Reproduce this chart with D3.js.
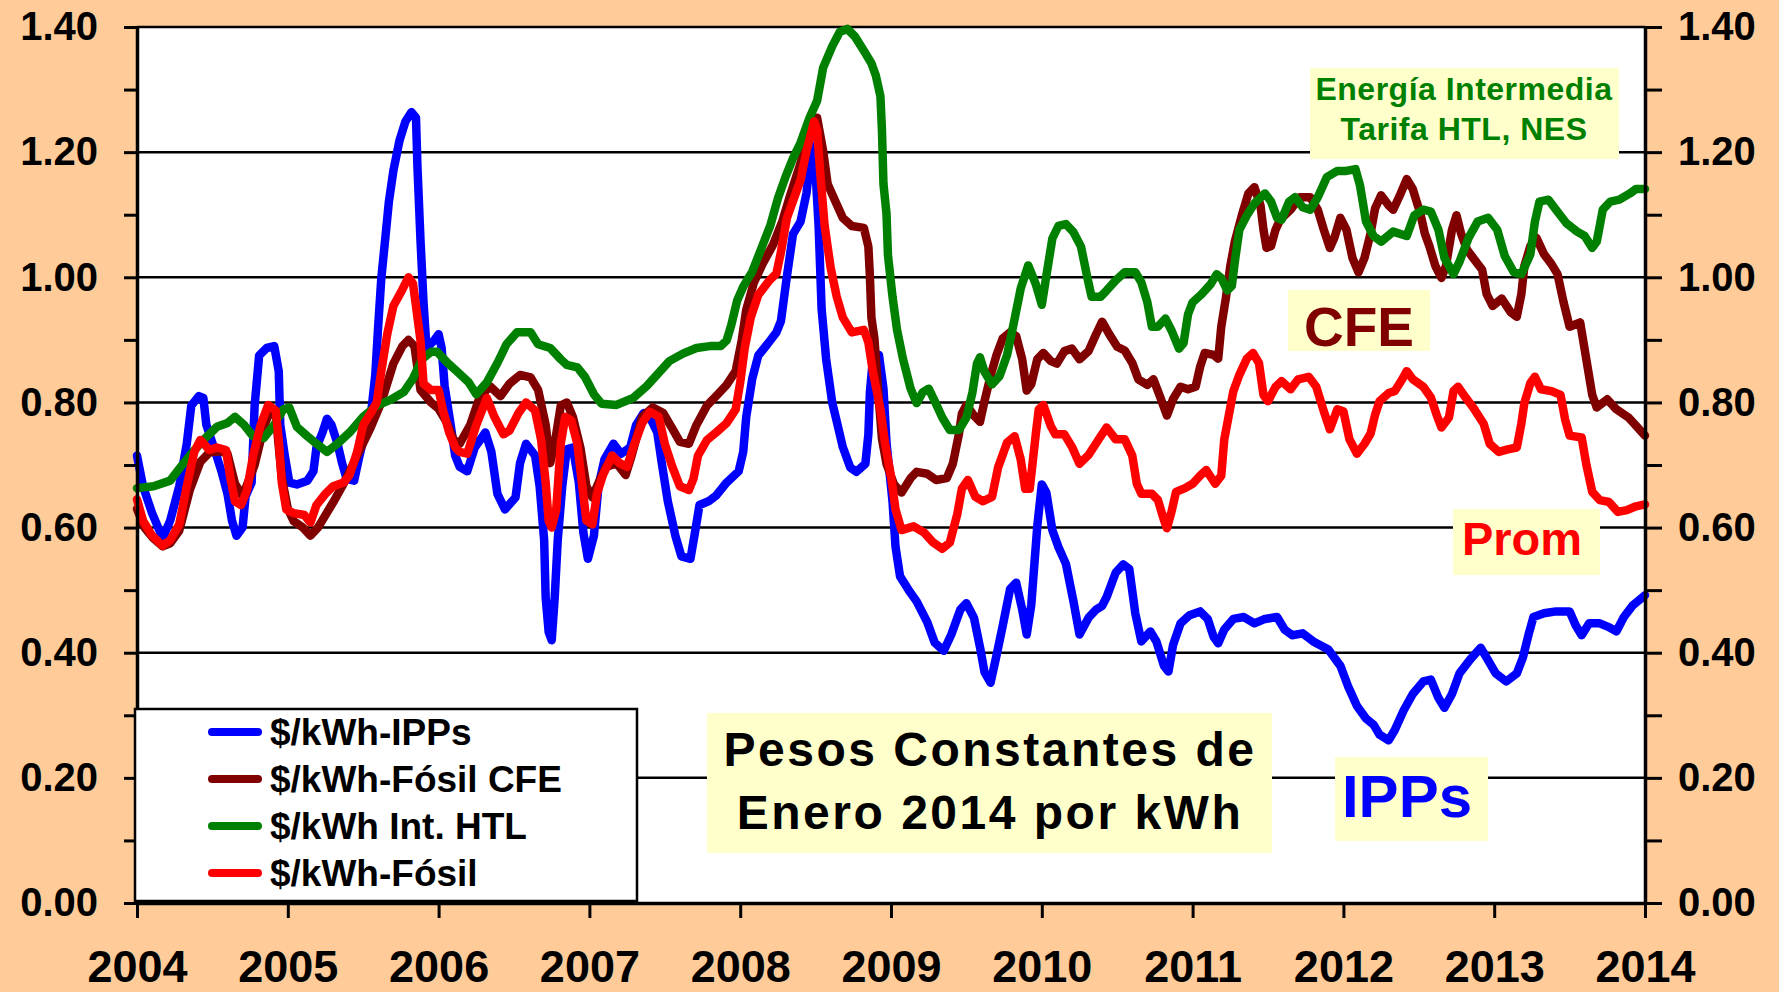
<!DOCTYPE html>
<html><head><meta charset="utf-8">
<script src="https://cdn.jsdelivr.net/npm/d3@7"></script>
<style>
body{margin:0;background:#FFCC99;}
svg text{font-family:"Liberation Sans",Arial,sans-serif;font-weight:bold;}
</style>
</head><body>
<svg id="chart" width="1779" height="992"></svg>
<script>
// ---------- DATA ----------
const yearTicks = [2004,2005,2006,2007,2008,2009,2010,2011,2012,2013,2014];
const yMajorTicks = [0,0.2,0.4,0.6,0.8,1.0,1.2,1.4];
const yAllTicks = [0,0.1,0.2,0.3,0.4,0.5,0.6,0.7,0.8,0.9,1.0,1.1,1.2,1.3,1.4];
const seriesLabels = ["$/kWh-IPPs","$/kWh-Fósil CFE","$/kWh Int. HTL","$/kWh-Fósil"];
const seriesColors = ["#0000FF","#800000","#008000","#FF0000"];

// [year, pesos/kWh]
const ipps = [[2004.00,0.715],[2004.04,0.666],[2004.10,0.623],[2004.17,0.583],[2004.22,0.611],[2004.28,0.666],[2004.33,0.734],[2004.36,0.795],[2004.41,0.81],[2004.44,0.807],[2004.46,0.764],[2004.51,0.728],[2004.56,0.69],[2004.60,0.654],[2004.63,0.611],[2004.66,0.587],[2004.70,0.60],[2004.72,0.65],[2004.76,0.672],[2004.78,0.795],[2004.81,0.875],[2004.86,0.887],[2004.91,0.89],[2004.94,0.85],[2004.95,0.764],[2004.98,0.715],[2005.01,0.672],[2005.06,0.669],[2005.13,0.675],[2005.17,0.69],[2005.19,0.728],[2005.23,0.752],[2005.26,0.774],[2005.29,0.764],[2005.33,0.734],[2005.36,0.703],[2005.39,0.678],[2005.44,0.675],[2005.47,0.709],[2005.50,0.74],[2005.55,0.777],[2005.58,0.844],[2005.60,0.924],[2005.62,0.998],[2005.65,1.071],[2005.67,1.12],[2005.70,1.17],[2005.74,1.218],[2005.78,1.249],[2005.82,1.264],[2005.85,1.255],[2005.86,1.175],[2005.88,1.059],[2005.90,0.96],[2005.92,0.887],[2005.97,0.899],[2006.00,0.909],[2006.02,0.887],[2006.04,0.826],[2006.08,0.764],[2006.11,0.715],[2006.14,0.697],[2006.19,0.69],[2006.24,0.728],[2006.31,0.752],[2006.35,0.721],[2006.39,0.654],[2006.44,0.629],[2006.51,0.648],[2006.54,0.703],[2006.58,0.734],[2006.64,0.715],[2006.67,0.666],[2006.70,0.58],[2006.71,0.488],[2006.73,0.433],[2006.75,0.42],[2006.77,0.488],[2006.79,0.58],[2006.82,0.666],[2006.85,0.725],[2006.89,0.728],[2006.93,0.672],[2006.96,0.592],[2006.99,0.55],[2007.03,0.587],[2007.06,0.666],[2007.10,0.709],[2007.16,0.734],[2007.21,0.718],[2007.27,0.728],[2007.31,0.764],[2007.36,0.783],[2007.40,0.777],[2007.45,0.752],[2007.48,0.703],[2007.52,0.642],[2007.57,0.587],[2007.61,0.554],[2007.67,0.55],[2007.70,0.592],[2007.73,0.636],[2007.79,0.642],[2007.84,0.651],[2007.91,0.672],[2007.99,0.69],[2008.02,0.721],[2008.04,0.777],[2008.08,0.838],[2008.12,0.875],[2008.18,0.893],[2008.24,0.912],[2008.27,0.93],[2008.31,1.002],[2008.35,1.069],[2008.40,1.089],[2008.44,1.135],[2008.47,1.20],[2008.49,1.21],[2008.52,1.082],[2008.54,0.949],[2008.57,0.869],[2008.61,0.80],[2008.64,0.77],[2008.68,0.729],[2008.73,0.696],[2008.77,0.689],[2008.83,0.702],[2008.85,0.749],[2008.86,0.816],[2008.88,0.869],[2008.92,0.876],[2008.95,0.822],[2008.97,0.736],[2009.01,0.642],[2009.03,0.569],[2009.06,0.522],[2009.12,0.499],[2009.17,0.482],[2009.24,0.449],[2009.29,0.416],[2009.35,0.403],[2009.40,0.429],[2009.46,0.469],[2009.50,0.479],[2009.55,0.456],[2009.59,0.409],[2009.62,0.369],[2009.66,0.352],[2009.70,0.396],[2009.74,0.442],[2009.79,0.502],[2009.83,0.512],[2009.87,0.469],[2009.90,0.429],[2009.93,0.476],[2009.97,0.602],[2010.00,0.669],[2010.03,0.656],[2010.07,0.596],[2010.11,0.569],[2010.16,0.542],[2010.21,0.482],[2010.25,0.429],[2010.31,0.456],[2010.36,0.469],[2010.40,0.475],[2010.43,0.489],[2010.49,0.528],[2010.54,0.541],[2010.58,0.534],[2010.62,0.463],[2010.66,0.418],[2010.72,0.434],[2010.76,0.418],[2010.81,0.379],[2010.84,0.37],[2010.87,0.412],[2010.92,0.447],[2010.98,0.46],[2011.05,0.466],[2011.10,0.454],[2011.14,0.425],[2011.17,0.415],[2011.21,0.437],[2011.27,0.454],[2011.34,0.457],[2011.41,0.447],[2011.48,0.454],[2011.56,0.457],[2011.61,0.437],[2011.66,0.428],[2011.73,0.431],[2011.80,0.418],[2011.90,0.405],[2011.98,0.379],[2012.03,0.347],[2012.09,0.315],[2012.15,0.295],[2012.20,0.285],[2012.24,0.269],[2012.30,0.26],[2012.34,0.276],[2012.40,0.308],[2012.46,0.334],[2012.53,0.354],[2012.58,0.357],[2012.63,0.328],[2012.67,0.312],[2012.72,0.334],[2012.77,0.367],[2012.84,0.389],[2012.91,0.408],[2012.95,0.392],[2013.01,0.367],[2013.08,0.354],[2013.15,0.367],[2013.19,0.392],[2013.23,0.431],[2013.26,0.457],[2013.33,0.463],[2013.41,0.466],[2013.50,0.466],[2013.54,0.444],[2013.58,0.428],[2013.63,0.447],[2013.70,0.447],[2013.76,0.441],[2013.81,0.434],[2013.86,0.457],[2013.92,0.476],[2014.00,0.492]];

const fosilCFE = [[2004.00,0.63],[2004.05,0.60],[2004.10,0.585],[2004.17,0.57],[2004.22,0.575],[2004.28,0.595],[2004.35,0.66],[2004.42,0.705],[2004.48,0.72],[2004.55,0.722],[2004.60,0.718],[2004.65,0.67],[2004.70,0.65],[2004.78,0.70],[2004.84,0.76],[2004.88,0.785],[2004.92,0.78],[2004.96,0.68],[2005.00,0.63],[2005.04,0.61],[2005.10,0.60],[2005.15,0.587],[2005.20,0.60],[2005.30,0.64],[2005.37,0.67],[2005.45,0.71],[2005.55,0.76],[2005.62,0.80],[2005.70,0.862],[2005.76,0.89],[2005.80,0.90],[2005.84,0.89],[2005.88,0.82],[2005.95,0.80],[2006.00,0.79],[2006.05,0.77],[2006.10,0.74],[2006.14,0.734],[2006.21,0.764],[2006.27,0.807],[2006.34,0.826],[2006.41,0.81],[2006.47,0.83],[2006.54,0.844],[2006.61,0.84],[2006.66,0.82],[2006.71,0.764],[2006.74,0.703],[2006.77,0.734],[2006.81,0.795],[2006.85,0.80],[2006.89,0.777],[2006.94,0.728],[2006.98,0.666],[2007.02,0.648],[2007.05,0.666],[2007.11,0.697],[2007.18,0.703],[2007.24,0.684],[2007.28,0.715],[2007.35,0.777],[2007.42,0.792],[2007.49,0.783],[2007.55,0.758],[2007.60,0.737],[2007.66,0.734],[2007.71,0.764],[2007.78,0.795],[2007.84,0.81],[2007.91,0.828],[2007.97,0.85],[2008.01,0.899],[2008.04,0.948],[2008.09,0.991],[2008.15,1.022],[2008.22,1.053],[2008.28,1.09],[2008.33,1.13],[2008.40,1.182],[2008.46,1.242],[2008.51,1.255],[2008.55,1.202],[2008.58,1.149],[2008.63,1.122],[2008.68,1.095],[2008.74,1.082],[2008.82,1.079],[2008.85,1.049],[2008.86,1.002],[2008.87,0.936],[2008.89,0.902],[2008.92,0.802],[2008.94,0.742],[2008.97,0.702],[2009.02,0.669],[2009.07,0.656],[2009.13,0.679],[2009.17,0.689],[2009.24,0.686],[2009.30,0.676],[2009.37,0.679],[2009.41,0.702],[2009.45,0.749],[2009.47,0.782],[2009.50,0.796],[2009.55,0.779],[2009.59,0.769],[2009.62,0.802],[2009.66,0.842],[2009.70,0.876],[2009.74,0.902],[2009.79,0.912],[2009.83,0.906],[2009.87,0.869],[2009.90,0.819],[2009.93,0.829],[2009.97,0.869],[2010.01,0.879],[2010.06,0.866],[2010.10,0.862],[2010.15,0.882],[2010.20,0.886],[2010.25,0.869],[2010.31,0.882],[2010.36,0.909],[2010.40,0.929],[2010.45,0.908],[2010.50,0.889],[2010.55,0.883],[2010.60,0.863],[2010.64,0.837],[2010.70,0.828],[2010.74,0.837],[2010.78,0.812],[2010.83,0.779],[2010.87,0.805],[2010.92,0.825],[2010.97,0.821],[2011.02,0.825],[2011.05,0.857],[2011.08,0.879],[2011.14,0.876],[2011.17,0.87],[2011.19,0.921],[2011.22,0.966],[2011.25,1.018],[2011.28,1.057],[2011.33,1.102],[2011.37,1.134],[2011.41,1.144],[2011.45,1.115],[2011.47,1.076],[2011.49,1.047],[2011.52,1.05],[2011.55,1.076],[2011.58,1.092],[2011.65,1.108],[2011.71,1.128],[2011.78,1.128],[2011.83,1.108],[2011.87,1.076],[2011.91,1.047],[2011.94,1.063],[2011.98,1.095],[2012.02,1.076],[2012.06,1.031],[2012.10,1.008],[2012.14,1.031],[2012.18,1.07],[2012.21,1.11],[2012.25,1.131],[2012.30,1.115],[2012.33,1.108],[2012.38,1.134],[2012.42,1.157],[2012.46,1.141],[2012.51,1.102],[2012.54,1.07],[2012.57,1.05],[2012.61,1.018],[2012.65,0.999],[2012.68,1.018],[2012.72,1.076],[2012.75,1.099],[2012.78,1.07],[2012.82,1.044],[2012.86,1.031],[2012.92,1.012],[2012.95,0.973],[2012.99,0.954],[2013.05,0.966],[2013.11,0.944],[2013.15,0.937],[2013.18,0.973],[2013.20,1.018],[2013.24,1.05],[2013.28,1.063],[2013.33,1.037],[2013.38,1.021],[2013.42,1.005],[2013.46,0.96],[2013.50,0.921],[2013.57,0.928],[2013.61,0.87],[2013.65,0.812],[2013.68,0.792],[2013.75,0.805],[2013.81,0.789],[2013.89,0.776],[2013.94,0.763],[2014.00,0.747]];

const intHTL = [[2004.00,0.663],[2004.11,0.666],[2004.22,0.675],[2004.29,0.697],[2004.35,0.715],[2004.44,0.74],[2004.53,0.761],[2004.60,0.767],[2004.65,0.777],[2004.71,0.764],[2004.77,0.746],[2004.84,0.743],[2004.91,0.764],[2004.97,0.789],[2005.01,0.792],[2005.06,0.761],[2005.13,0.746],[2005.19,0.734],[2005.26,0.721],[2005.33,0.734],[2005.41,0.752],[2005.50,0.777],[2005.59,0.795],[2005.68,0.804],[2005.77,0.817],[2005.83,0.838],[2005.89,0.869],[2005.95,0.881],[2005.99,0.881],[2006.06,0.863],[2006.12,0.85],[2006.20,0.832],[2006.25,0.813],[2006.32,0.832],[2006.39,0.863],[2006.45,0.893],[2006.52,0.912],[2006.61,0.912],[2006.66,0.893],[2006.74,0.887],[2006.81,0.869],[2006.85,0.86],[2006.92,0.856],[2006.97,0.841],[2007.03,0.813],[2007.08,0.798],[2007.18,0.796],[2007.29,0.807],[2007.38,0.826],[2007.47,0.85],[2007.53,0.866],[2007.62,0.878],[2007.71,0.887],[2007.80,0.89],[2007.87,0.89],[2007.91,0.899],[2007.94,0.923],[2007.98,0.963],[2008.02,0.985],[2008.08,1.009],[2008.14,1.046],[2008.20,1.083],[2008.25,1.126],[2008.30,1.16],[2008.35,1.19],[2008.40,1.215],[2008.46,1.255],[2008.51,1.282],[2008.55,1.335],[2008.61,1.369],[2008.66,1.392],[2008.71,1.397],[2008.76,1.385],[2008.82,1.362],[2008.87,1.342],[2008.90,1.322],[2008.93,1.289],[2008.94,1.235],[2008.95,1.149],[2008.97,1.102],[2008.98,1.035],[2009.01,0.969],[2009.04,0.916],[2009.08,0.869],[2009.13,0.822],[2009.17,0.799],[2009.21,0.816],[2009.25,0.822],[2009.29,0.802],[2009.34,0.776],[2009.39,0.756],[2009.45,0.756],[2009.50,0.776],[2009.54,0.816],[2009.57,0.862],[2009.59,0.872],[2009.62,0.849],[2009.67,0.829],[2009.72,0.842],[2009.77,0.876],[2009.81,0.922],[2009.86,0.982],[2009.91,1.019],[2009.96,0.989],[2010.00,0.956],[2010.03,1.002],[2010.07,1.062],[2010.11,1.082],[2010.16,1.085],[2010.21,1.072],[2010.26,1.049],[2010.30,1.002],[2010.33,0.969],[2010.39,0.969],[2010.43,0.979],[2010.49,0.995],[2010.55,1.008],[2010.62,1.008],[2010.66,0.992],[2010.70,0.96],[2010.73,0.921],[2010.77,0.921],[2010.82,0.934],[2010.86,0.915],[2010.91,0.886],[2010.94,0.895],[2010.97,0.941],[2011.00,0.96],[2011.06,0.973],[2011.12,0.989],[2011.16,1.005],[2011.19,0.999],[2011.23,0.979],[2011.26,0.986],[2011.28,1.025],[2011.31,1.076],[2011.36,1.099],[2011.41,1.118],[2011.48,1.134],[2011.52,1.121],[2011.56,1.095],[2011.59,1.092],[2011.64,1.121],[2011.68,1.128],[2011.73,1.112],[2011.78,1.108],[2011.83,1.128],[2011.89,1.16],[2011.96,1.17],[2012.02,1.17],[2012.08,1.173],[2012.11,1.147],[2012.15,1.089],[2012.20,1.066],[2012.25,1.057],[2012.33,1.073],[2012.42,1.066],[2012.47,1.099],[2012.53,1.108],[2012.58,1.105],[2012.63,1.076],[2012.67,1.031],[2012.73,1.005],[2012.77,1.025],[2012.83,1.063],[2012.89,1.089],[2012.96,1.095],[2013.02,1.076],[2013.07,1.034],[2013.13,1.008],[2013.18,1.005],[2013.24,1.037],[2013.27,1.089],[2013.30,1.121],[2013.36,1.124],[2013.41,1.108],[2013.48,1.086],[2013.55,1.073],[2013.60,1.066],[2013.65,1.047],[2013.68,1.057],[2013.72,1.108],[2013.77,1.121],[2013.83,1.124],[2013.90,1.134],[2013.94,1.141],[2014.00,1.141]];

const fosil = [[2004.00,0.645],[2004.04,0.611],[2004.10,0.587],[2004.17,0.571],[2004.22,0.58],[2004.28,0.605],[2004.33,0.666],[2004.38,0.721],[2004.42,0.74],[2004.48,0.724],[2004.53,0.728],[2004.59,0.724],[2004.62,0.678],[2004.65,0.642],[2004.69,0.636],[2004.73,0.66],[2004.77,0.715],[2004.82,0.764],[2004.87,0.796],[2004.92,0.787],[2004.94,0.74],[2004.96,0.672],[2004.99,0.629],[2005.04,0.623],[2005.11,0.62],[2005.15,0.608],[2005.19,0.636],[2005.25,0.654],[2005.30,0.666],[2005.37,0.672],[2005.41,0.684],[2005.46,0.721],[2005.50,0.764],[2005.55,0.783],[2005.59,0.80],[2005.62,0.85],[2005.66,0.91],[2005.70,0.954],[2005.75,0.976],[2005.80,1.0],[2005.83,0.99],[2005.86,0.936],[2005.88,0.899],[2005.90,0.83],[2005.95,0.82],[2006.00,0.82],[2006.03,0.787],[2006.07,0.752],[2006.11,0.728],[2006.14,0.721],[2006.19,0.718],[2006.25,0.764],[2006.32,0.807],[2006.37,0.777],[2006.43,0.749],[2006.47,0.755],[2006.53,0.783],[2006.58,0.80],[2006.64,0.787],[2006.68,0.74],[2006.71,0.672],[2006.73,0.611],[2006.75,0.60],[2006.78,0.629],[2006.81,0.734],[2006.84,0.777],[2006.88,0.771],[2006.92,0.734],[2006.95,0.672],[2006.98,0.611],[2007.02,0.605],[2007.05,0.654],[2007.09,0.684],[2007.15,0.715],[2007.20,0.703],[2007.25,0.697],[2007.29,0.728],[2007.35,0.767],[2007.40,0.785],[2007.46,0.777],[2007.50,0.734],[2007.55,0.697],[2007.60,0.666],[2007.66,0.66],[2007.69,0.678],[2007.72,0.715],[2007.78,0.74],[2007.84,0.752],[2007.91,0.767],[2007.97,0.789],[2008.00,0.832],[2008.03,0.887],[2008.07,0.936],[2008.12,0.972],[2008.19,0.994],[2008.24,1.006],[2008.27,1.04],[2008.31,1.095],[2008.35,1.122],[2008.40,1.155],[2008.44,1.202],[2008.49,1.249],[2008.51,1.235],[2008.53,1.169],[2008.56,1.082],[2008.60,1.015],[2008.64,0.969],[2008.68,0.936],[2008.74,0.912],[2008.82,0.916],[2008.85,0.896],[2008.88,0.849],[2008.93,0.789],[2008.96,0.736],[2009.00,0.682],[2009.03,0.629],[2009.07,0.596],[2009.15,0.602],[2009.22,0.592],[2009.28,0.576],[2009.34,0.566],[2009.39,0.576],[2009.44,0.622],[2009.47,0.662],[2009.51,0.676],[2009.56,0.649],[2009.61,0.642],[2009.67,0.649],[2009.71,0.696],[2009.77,0.736],[2009.82,0.746],[2009.86,0.709],[2009.89,0.662],[2009.92,0.662],[2009.96,0.749],[2009.98,0.789],[2010.01,0.796],[2010.06,0.762],[2010.09,0.749],[2010.15,0.749],[2010.20,0.729],[2010.25,0.702],[2010.31,0.716],[2010.38,0.742],[2010.43,0.76],[2010.49,0.741],[2010.55,0.741],[2010.60,0.715],[2010.63,0.67],[2010.66,0.654],[2010.73,0.654],[2010.77,0.644],[2010.81,0.612],[2010.83,0.599],[2010.86,0.625],[2010.89,0.657],[2010.95,0.663],[2011.00,0.67],[2011.05,0.683],[2011.09,0.692],[2011.15,0.67],[2011.19,0.683],[2011.21,0.741],[2011.24,0.779],[2011.27,0.818],[2011.31,0.844],[2011.36,0.87],[2011.40,0.879],[2011.44,0.863],[2011.47,0.812],[2011.50,0.802],[2011.55,0.825],[2011.59,0.834],[2011.65,0.821],[2011.70,0.837],[2011.77,0.841],[2011.82,0.825],[2011.87,0.786],[2011.91,0.757],[2011.96,0.789],[2012.00,0.786],[2012.04,0.741],[2012.09,0.718],[2012.14,0.734],[2012.18,0.75],[2012.21,0.78],[2012.24,0.802],[2012.30,0.815],[2012.34,0.818],[2012.39,0.837],[2012.42,0.85],[2012.46,0.837],[2012.53,0.825],[2012.58,0.808],[2012.62,0.779],[2012.65,0.76],[2012.70,0.776],[2012.73,0.818],[2012.76,0.825],[2012.81,0.808],[2012.86,0.792],[2012.93,0.766],[2012.97,0.734],[2013.03,0.721],[2013.09,0.725],[2013.15,0.728],[2013.18,0.766],[2013.20,0.799],[2013.24,0.831],[2013.27,0.841],[2013.31,0.821],[2013.38,0.818],[2013.44,0.812],[2013.47,0.773],[2013.50,0.747],[2013.58,0.744],[2013.61,0.702],[2013.65,0.657],[2013.70,0.644],[2013.76,0.641],[2013.82,0.625],[2013.88,0.628],[2013.94,0.634],[2014.00,0.637]];

const seriesData = [ipps, fosilCFE, intHTL, fosil];

// ---------- CHART ----------
const W = 1779, H = 992;
const P = {left:137, right:1645, top:27, bottom:903};
const svg = d3.select("#chart");
const x = d3.scaleLinear().domain([2004,2014]).range([P.left,P.right]);
const y = d3.scaleLinear().domain([0,1.4]).range([P.bottom,P.top]);
const fmt = d3.format(".2f");
const isMajor = d => Math.abs(Math.round(d*10) % 2) === 0;

svg.append("rect").attr("width",W).attr("height",H).attr("fill","#FFCC99");
svg.append("rect").attr("x",P.left).attr("y",P.top)
  .attr("width",P.right-P.left).attr("height",P.bottom-P.top).attr("fill","#FFFFFF");

// gridlines
svg.append("g").selectAll("line").data(yMajorTicks.filter(d=>d>0)).join("line")
  .attr("x1",P.left).attr("x2",P.right)
  .attr("y1",d=>y(d)).attr("y2",d=>y(d))
  .attr("stroke","#000").attr("stroke-width",2.5);

// series lines
const line = d3.line().x(d=>x(d[0])).y(d=>y(d[1]));
svg.append("g").selectAll("path").data(seriesData).join("path")
  .attr("d",line).attr("fill","none")
  .attr("stroke",(d,i)=>seriesColors[i])
  .attr("stroke-width",8.5).attr("stroke-linejoin","round").attr("stroke-linecap","round");

// axes
function styleAxis(g, fs){
  g.select(".domain").attr("stroke","#000").attr("stroke-width",3.5);
  g.selectAll(".tick line").attr("stroke","#000").attr("stroke-width",3);
  g.selectAll(".tick text").attr("fill","#000").style("font-size",fs+"px")
   .style("font-family","'Liberation Sans',Arial,sans-serif").style("font-weight","bold");
}
const axL = d3.axisLeft(y).tickValues(yAllTicks).tickSize(13).tickSizeOuter(0)
  .tickPadding(26).tickFormat(d=>isMajor(d)?fmt(d):"");
svg.append("g").attr("transform",`translate(${P.left},0)`).call(axL).call(g=>styleAxis(g,40));

const axR = d3.axisRight(y).tickValues(yAllTicks).tickSize(17).tickSizeOuter(0)
  .tickPadding(16).tickFormat(d=>isMajor(d)?fmt(d):"");
svg.append("g").attr("transform",`translate(${P.right},0)`).call(axR).call(g=>styleAxis(g,40));

const axB = d3.axisBottom(x).tickValues(yearTicks).tickSize(15).tickSizeOuter(0)
  .tickPadding(32).tickFormat(d3.format("d"));
svg.append("g").attr("transform",`translate(0,${P.bottom})`).call(axB).call(g=>styleAxis(g,45));

// annotation boxes
function box(x0,y0,x1,y1){
  svg.append("rect").attr("x",x0).attr("y",y0).attr("width",x1-x0).attr("height",y1-y0).attr("fill","#FFFFCC");
}
function label(txt,cx,by,fs,col,ls){
  svg.append("text").attr("x",cx).attr("y",by).attr("text-anchor","middle")
    .attr("fill",col).style("font-size",fs+"px").style("letter-spacing",(ls||0)+"px").text(txt);
}
box(1310,68,1619,159);
label("Energía Intermedia",1464,100,32,"#008000",0.5);
label("Tarifa HTL, NES",1464,140,32,"#008000",0.5);

box(1288,290,1430,351);
label("CFE",1359,346,55,"#800000");

box(1453,509,1600,575);
label("Prom",1522,555,47,"#FF0000");

box(1335,757,1488,841);
label("IPPs",1407,817,60,"#0000FF");

box(707,713,1272,853);
label("Pesos Constantes de",990,766,48,"#000",2.5);
label("Enero 2014 por kWh",990,829,48,"#000",2.5);

// legend
const lg = svg.append("g");
lg.append("rect").attr("x",135).attr("y",709).attr("width",502).attr("height",192)
  .attr("fill","#FFFFFF").attr("stroke","#000").attr("stroke-width",2.5);
const rowY = d3.scalePoint().domain(seriesLabels).range([732,873]);
const items = lg.selectAll("g.item").data(seriesLabels).join("g").attr("class","item")
  .attr("transform",d=>`translate(0,${rowY(d)})`);
items.append("line").attr("x1",212).attr("x2",258).attr("y1",0).attr("y2",0)
  .attr("stroke",(d,i)=>seriesColors[i]).attr("stroke-width",8).attr("stroke-linecap","round");
items.append("text").attr("x",270).attr("y",13).attr("fill","#000")
  .style("font-size","37px").text(d=>d);
</script>
</body></html>
